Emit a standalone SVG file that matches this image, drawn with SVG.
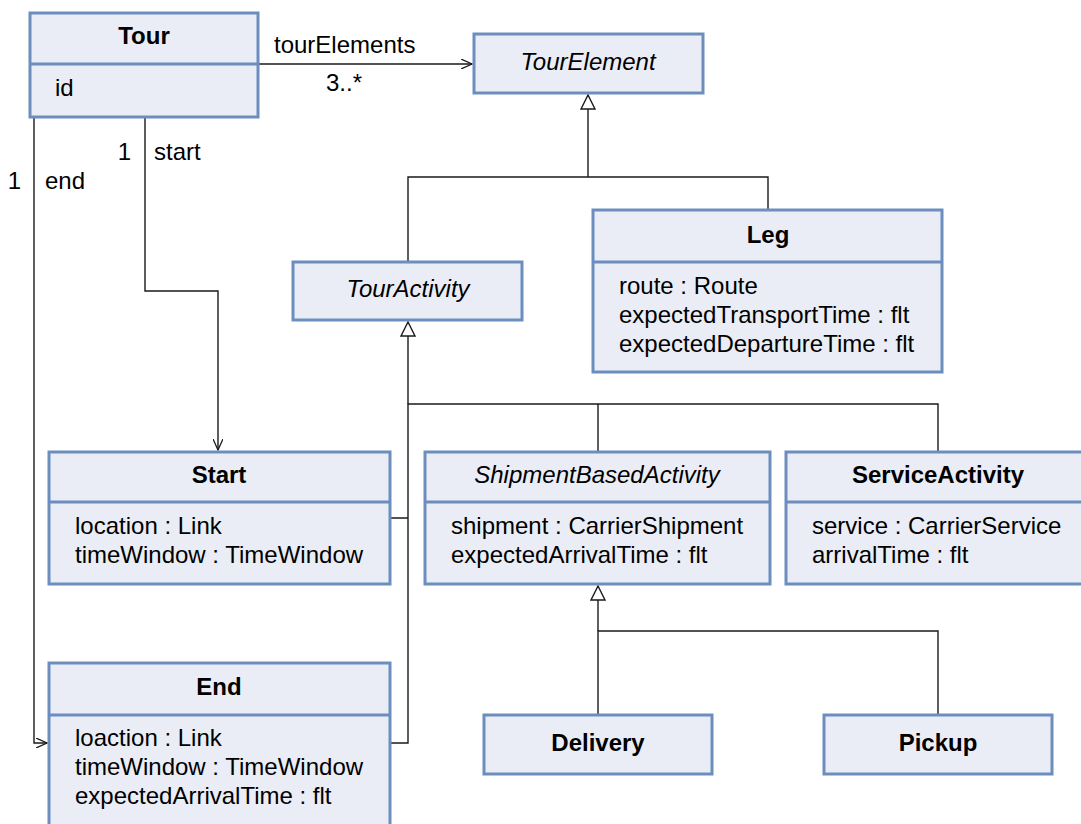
<svg xmlns="http://www.w3.org/2000/svg" width="1081" height="824" viewBox="0 0 1081 824">
  <style>
    .box { fill: #eaedf5; stroke: #6c8ebf; stroke-width: 3; }
    .div { stroke: #6c8ebf; stroke-width: 3; fill: none; }
    .title { font-family: "Liberation Sans", Arial, sans-serif; font-size: 24px; font-weight: bold; fill: #000; text-anchor: middle; }
    .abs { font-family: "Liberation Sans", Arial, sans-serif; font-size: 24px; font-style: italic; fill: #000; text-anchor: middle; }
    .attr { font-family: "Liberation Sans", Arial, sans-serif; font-size: 24px; fill: #000; }
    .lbl { font-family: "Liberation Sans", Arial, sans-serif; font-size: 24px; fill: #000; }
    .edge { fill: none; stroke: #1a1a1a; stroke-width: 1.4; }
  </style>
  <defs>
    <marker id="open" viewBox="0 0 12 10" refX="11" refY="5" markerWidth="12" markerHeight="10" markerUnits="userSpaceOnUse" orient="auto">
      <path d="M0,0 L11,5 L0,10" fill="none" stroke="#1a1a1a" stroke-width="1.3"/>
    </marker>
    <marker id="gen" viewBox="0 0 16 16" refX="15" refY="8" markerWidth="16" markerHeight="16" markerUnits="userSpaceOnUse" orient="auto">
      <path d="M1,1 L15,8 L1,15 Z" fill="#fff" stroke="#1a1a1a" stroke-width="1.4"/>
    </marker>
  </defs>

  <rect width="1081" height="824" fill="#fff"/>

  <g id="connectors">
    <!-- Tour -> TourElement -->
    <path class="edge" d="M258,64 H472" marker-end="url(#open)"/>
    <!-- Tour -> Start -->
    <path class="edge" d="M145,117 V291 H218 V450" marker-end="url(#open)"/>
    <!-- Tour -> End -->
    <path class="edge" d="M34,117 V743 H47" marker-end="url(#open)"/>
    <!-- TourActivity / Leg generalize TourElement -->
    <path class="edge" d="M408,262 V177 H768 V210"/>
    <path class="edge" d="M588,177 V95" marker-end="url(#gen)"/>
    <!-- Start / End / ShipmentBasedActivity / ServiceActivity generalize TourActivity -->
    <path class="edge" d="M390,518 H408 M390,743 H408 V404 H938 V452 M598,404 V452"/>
    <path class="edge" d="M408,404 V322" marker-end="url(#gen)"/>
    <!-- Delivery / Pickup generalize ShipmentBasedActivity -->
    <path class="edge" d="M598,715 V631 H938 V715"/>
    <path class="edge" d="M598,631 V586" marker-end="url(#gen)"/>
  </g>

  <g id="edge-labels">
    <text class="lbl" x="274" y="53">tourElements</text>
    <text class="lbl" x="344" y="91" text-anchor="middle">3..*</text>
    <text class="lbl" x="131" y="160" text-anchor="end">1</text>
    <text class="lbl" x="154" y="160">start</text>
    <text class="lbl" x="21" y="189" text-anchor="end">1</text>
    <text class="lbl" x="45" y="189">end</text>
  </g>

  <g id="tour">
    <rect class="box" x="30" y="13" width="228" height="104"/>
    <line class="div" x1="30" y1="64" x2="258" y2="64"/>
    <text class="title" x="144" y="44">Tour</text>
    <text class="attr" x="55" y="96">id</text>
  </g>

  <g id="tourElement">
    <rect class="box" x="474" y="34" width="229" height="59"/>
    <text class="abs" x="588" y="70">TourElement</text>
  </g>

  <g id="tourActivity">
    <rect class="box" x="293" y="262" width="229" height="58"/>
    <text class="abs" x="408" y="297">TourActivity</text>
  </g>

  <g id="leg">
    <rect class="box" x="593" y="210" width="349" height="162"/>
    <line class="div" x1="593" y1="262" x2="942" y2="262"/>
    <text class="title" x="768" y="243">Leg</text>
    <text class="attr" x="619" y="294">route : Route</text>
    <text class="attr" x="619" y="323">expectedTransportTime : flt</text>
    <text class="attr" x="619" y="352">expectedDepartureTime : flt</text>
  </g>

  <g id="start">
    <rect class="box" x="49" y="452" width="341" height="132"/>
    <line class="div" x1="49" y1="502" x2="390" y2="502"/>
    <text class="title" x="219" y="483">Start</text>
    <text class="attr" x="75" y="534">location : Link</text>
    <text class="attr" x="75" y="563">timeWindow : TimeWindow</text>
  </g>

  <g id="end">
    <rect class="box" x="49" y="663" width="341" height="170"/>
    <line class="div" x1="49" y1="715" x2="390" y2="715"/>
    <text class="title" x="219" y="695">End</text>
    <text class="attr" x="75" y="746">loaction : Link</text>
    <text class="attr" x="75" y="775">timeWindow : TimeWindow</text>
    <text class="attr" x="75" y="804">expectedArrivalTime : flt</text>
  </g>

  <g id="shipmentBasedActivity">
    <rect class="box" x="425" y="452" width="345" height="132"/>
    <line class="div" x1="425" y1="502" x2="770" y2="502"/>
    <text class="abs" x="597" y="483">ShipmentBasedActivity</text>
    <text class="attr" x="451" y="534">shipment : CarrierShipment</text>
    <text class="attr" x="451" y="563">expectedArrivalTime : flt</text>
  </g>

  <g id="serviceActivity">
    <rect class="box" x="786" y="452" width="300" height="132"/>
    <line class="div" x1="786" y1="502" x2="1086" y2="502"/>
    <text class="title" x="938" y="483">ServiceActivity</text>
    <text class="attr" x="812" y="534">service : CarrierService</text>
    <text class="attr" x="812" y="563">arrivalTime : flt</text>
  </g>

  <g id="delivery">
    <rect class="box" x="484" y="715" width="228" height="59"/>
    <text class="title" x="598" y="751">Delivery</text>
  </g>

  <g id="pickup">
    <rect class="box" x="824" y="715" width="228" height="59"/>
    <text class="title" x="938" y="751">Pickup</text>
  </g>
</svg>
